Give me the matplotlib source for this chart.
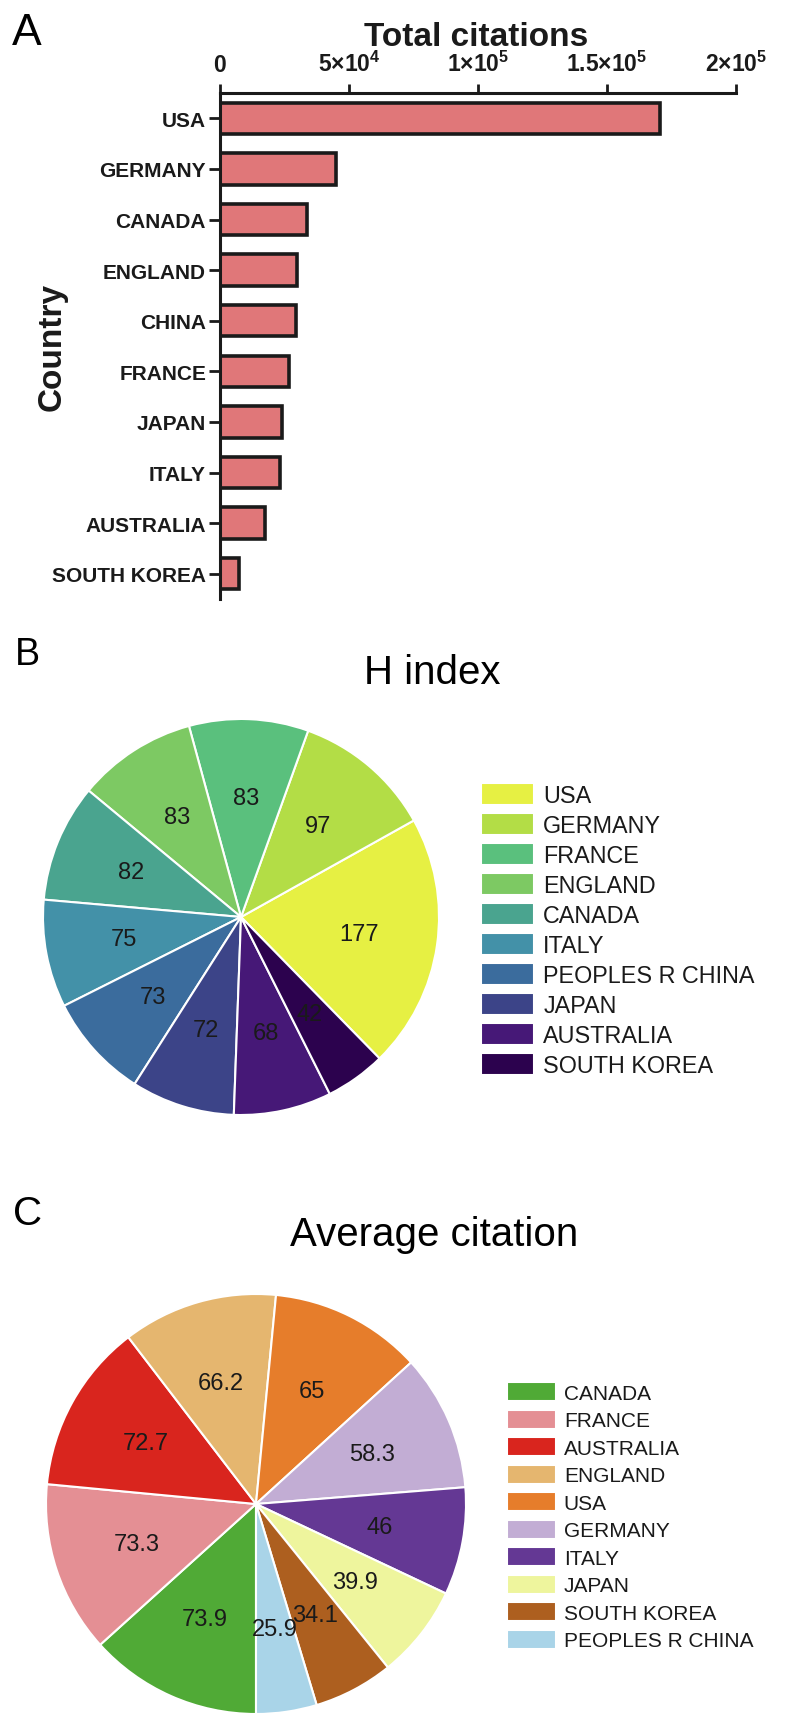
import matplotlib
matplotlib.use("Agg")
import matplotlib.pyplot as plt
from matplotlib import font_manager as fm

# ---------------- data ----------------
cit_countries = ['USA', 'GERMANY', 'CANADA', 'ENGLAND', 'CHINA', 'FRANCE',
                 'JAPAN', 'ITALY', 'AUSTRALIA', 'SOUTH KOREA']
total_citations = [170500, 45100, 33800, 29900, 29300, 26800, 24200, 23200, 17400, 7200]
cit_ticks = [0, 50000, 100000, 150000, 200000]
cit_tick_labels = [r'$\mathbf{0}$', r'$\mathbf{5{\times}10^{4}}$', r'$\mathbf{1{\times}10^{5}}$',
                   r'$\mathbf{1.5{\times}10^{5}}$', r'$\mathbf{2{\times}10^{5}}$']

h_countries = ['USA', 'GERMANY', 'FRANCE', 'ENGLAND', 'CANADA', 'ITALY',
               'PEOPLES R CHINA', 'JAPAN', 'AUSTRALIA', 'SOUTH KOREA']
h_index = [177, 97, 83, 83, 82, 75, 73, 72, 68, 42]
h_colors = ['#e6f043', '#b3dd46', '#5ac07d', '#7dc963', '#4aa48f', '#4391a8',
            '#3b6c9d', '#3c4488', '#461877', '#2c024e']

avg_countries = ['CANADA', 'FRANCE', 'AUSTRALIA', 'ENGLAND', 'USA', 'GERMANY',
                 'ITALY', 'JAPAN', 'SOUTH KOREA', 'PEOPLES R CHINA']
avg_citation = [73.9, 73.3, 72.7, 66.2, 65, 58.3, 46, 39.9, 34.1, 25.9]
avg_colors = ['#50aa36', '#e48f94', '#d9251e', '#e5b66f', '#e67d2b', '#c2add4',
              '#643894', '#eef59d', '#ad5f1f', '#a9d4e8']

# ---------------- style ----------------
plt.rcParams['font.family'] = ['Liberation Sans', 'DejaVu Sans']
plt.rcParams['mathtext.fontset'] = 'custom'
plt.rcParams['mathtext.bf'] = 'Liberation Sans:bold'
plt.rcParams['mathtext.rm'] = 'Liberation Sans'
plt.rcParams['mathtext.it'] = 'Liberation Sans:italic'

names = {f.name for f in fm.fontManager.ttflist}
if 'Liberation Sans Narrow' in names:
    title_family = ['Liberation Sans Narrow', 'Liberation Sans']
    title_size = 34
else:
    title_family = ['Liberation Sans']
    title_size = 29

INK = '#1a1a1a'
W, H = 787, 1731
fig = plt.figure(figsize=(W / 100, H / 100), dpi=100)


def fx(px):
    return px / W


def fy(py):
    return 1 - py / H


# ---------------- Panel A ----------------
axA = fig.add_axes([fx(220), fy(600), fx(516), 506 / H])
ypos = list(range(len(cit_countries)))
axA.barh(ypos, total_citations, height=0.62, color='#e07779',
         edgecolor=INK, linewidth=2.6)
axA.set_xlim(0, 200000)
axA.set_ylim(len(cit_countries) - 0.5, -0.5)
axA.set_yticks(ypos)
axA.set_yticklabels(cit_countries, fontweight='bold', fontsize=15, color=INK)
axA.xaxis.tick_top()
axA.set_xticks(cit_ticks)
axA.set_xticklabels(cit_tick_labels, fontsize=16.5, color=INK)
for s in ['bottom', 'right']:
    axA.spines[s].set_visible(False)
for s in ['top', 'left']:
    axA.spines[s].set_linewidth(2.2)
    axA.spines[s].set_color(INK)
axA.tick_params(axis='x', length=6.5, width=2, pad=6, color=INK)
axA.tick_params(axis='y', length=8, width=2, pad=2, color=INK)

fig.text(fx(476), fy(46), 'Total citations', fontsize=24, fontweight='bold',
         ha='center', va='baseline', color=INK)
fig.text(fx(52), fy(347), 'Country', fontsize=24, fontweight='bold',
         rotation=90, ha='center', va='center', color=INK)
fig.text(fx(12), fy(45), 'A', fontsize=32, ha='left', va='baseline', color='black')

# ---------------- Panel B ----------------
cxB, cyB, rB = 241, 918, 198
axB = fig.add_axes([fx(cxB - rB), fy(cyB + rB), 2 * rB / W, 2 * rB / H])
h_lab = iter(['{:g}'.format(v) for v in h_index])
wedB, _, txtB = axB.pie(h_index, colors=h_colors, startangle=-45.6, counterclock=True,
                        wedgeprops=dict(edgecolor='white', linewidth=1.5),
                        autopct=lambda p: next(h_lab), pctdistance=0.6,
                        textprops=dict(fontsize=17, color=INK))
axB.set_xlim(-1, 1)
axB.set_ylim(-1, 1)
axB.set_aspect('equal')

fig.text(fx(15), fy(665), 'B', fontsize=27, ha='left', va='baseline', color='black')
fig.text(fx(432), fy(684), 'H index', fontsize=title_size, family=title_family,
         ha='center', va='baseline', color='black')

fig.legend(wedB, h_countries, loc='upper left', bbox_to_anchor=(fx(481), fy(784)),
           frameon=False, fontsize=16.8, handlelength=2.28, handleheight=1.07,
           labelspacing=0.26, handletextpad=0.39, borderpad=0, borderaxespad=0,
           labelcolor=INK)

# ---------------- Panel C ----------------
cxC, cyC, rC = 256, 1505, 210
axC = fig.add_axes([fx(cxC - rC), fy(cyC + rC), 2 * rC / W, 2 * rC / H])
a_lab = iter(['{:g}'.format(v) for v in avg_citation])
wedC, _, txtC = axC.pie(avg_citation, colors=avg_colors, startangle=-90, counterclock=False,
                        wedgeprops=dict(edgecolor='white', linewidth=1.5),
                        autopct=lambda p: next(a_lab), pctdistance=0.6,
                        textprops=dict(fontsize=17, color=INK))
axC.set_xlim(-1, 1)
axC.set_ylim(-1, 1)
axC.set_aspect('equal')

fig.text(fx(13), fy(1225), 'C', fontsize=29, ha='left', va='baseline', color='black')
fig.text(fx(434), fy(1246), 'Average citation', fontsize=title_size, family=title_family,
         ha='center', va='baseline', color='black')

fig.legend(wedC, avg_countries, loc='upper left', bbox_to_anchor=(fx(507), fy(1383)),
           frameon=False, fontsize=15, handlelength=2.35, handleheight=1.06,
           labelspacing=0.32, handletextpad=0.38, borderpad=0, borderaxespad=0,
           labelcolor=INK)

fig.savefig('out.png', dpi=100, facecolor='white')
